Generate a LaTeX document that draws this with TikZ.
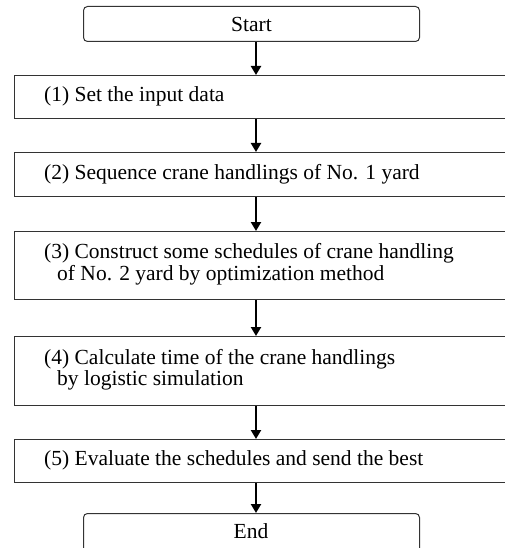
\documentclass[tikz,border=0pt]{standalone}
\usepackage{fontspec}
\setmainfont{Liberation Serif}
\usetikzlibrary{arrows.meta}
\begin{document}
\begin{tikzpicture}[x=1pt,y=-1pt,
  box/.style={draw=black!80, line width=1pt, minimum width=520pt, inner sep=0pt, anchor=north west},
  term/.style={draw=black!80, line width=1pt, rounded corners=4pt, minimum width=336pt, inner sep=0pt, anchor=north west, font=\fontsize{21.5}{21.5}\selectfont},
  txt/.style={anchor=west, align=left, inner sep=0pt, font=\fontsize{21.5}{21.5}\selectfont},
  arr/.style={line width=2.6pt, -{Triangle[length=9pt,width=10pt]}}]
\useasboundingbox (0,0) rectangle (505,548);
\clip (0,0) rectangle (505,548);
\fill[white] (0,0) rectangle (505,548);
\node[term, minimum height=35pt] (start) at (83,6) {Start};
\node[box, minimum height=43pt] (b1) at (14,75) {};
\node[box, minimum height=44pt] (b2) at (14,152) {};
\node[box, minimum height=68pt] (b3) at (14,231) {};
\node[box, minimum height=69pt] (b4) at (14,336) {};
\node[box, minimum height=43pt] (b5) at (14,439) {};
\node[term, minimum height=40pt] (end) at (83,513) {};
\node[inner sep=0pt, font=\fontsize{21.5}{21.5}\selectfont] (endt) at (251,531) {End};
\node[txt] (t1) at (44,96.5) {(1) Set the input data};
\node[txt] (t2) at (44,174) {(2) Sequence crane handlings of No. 1 yard};
\node[txt] (t3) at (44,264) {(3) Construct some schedules of crane handling\\\hspace*{13pt}of No. 2 yard by optimization method};
\node[txt] (t4) at (44,369.5) {(4) Calculate time of the crane handlings\\\hspace*{13pt}by logistic simulation};
\node[txt] (t5) at (44,460.5) {(5) Evaluate the schedules and send the best};
\coordinate (ax) at (256,0);
\draw[arr] (start.south -| ax) -- (b1.north -| ax);
\draw[arr] (b1.south -| ax) -- (b2.north -| ax);
\draw[arr] (b2.south -| ax) -- (b3.north -| ax);
\draw[arr] (b3.south -| ax) -- (b4.north -| ax);
\draw[arr] (b4.south -| ax) -- (b5.north -| ax);
\draw[arr] (b5.south -| ax) -- (end.north -| ax);
\end{tikzpicture}
\end{document}
